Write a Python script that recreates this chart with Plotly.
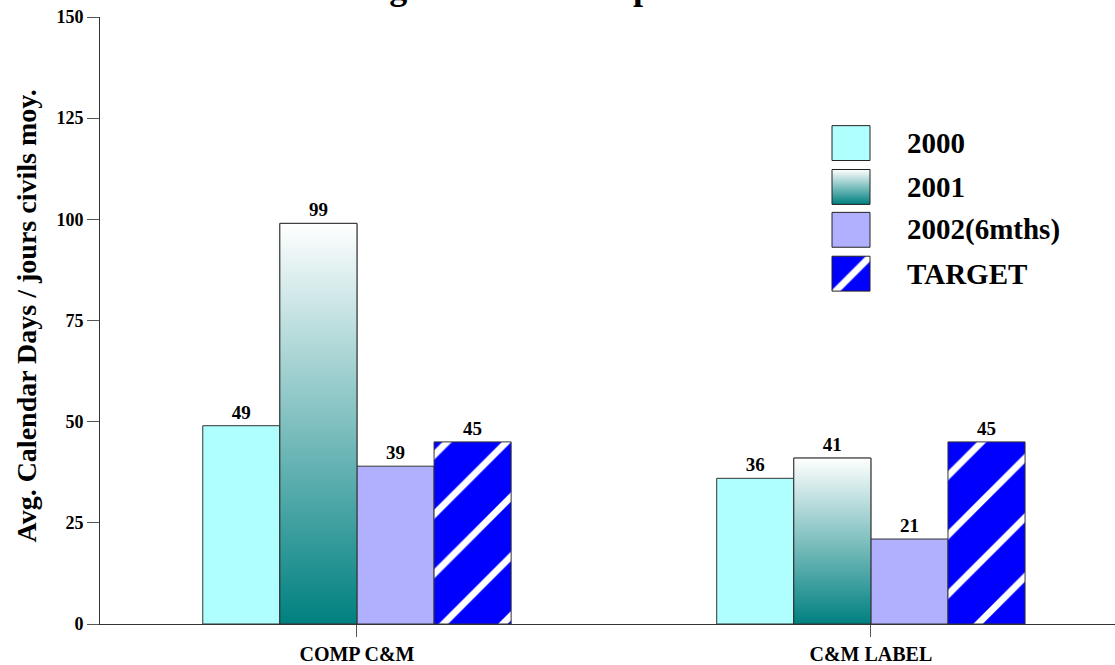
import plotly.graph_objects as go

categories = ["COMP C&M", "C&M LABEL"]
series_names = ["2000", "2001", "2002(6mths)", "TARGET"]
v2000 = [49, 36]
v2001 = [99, 41]
v2002 = [39, 21]
vtarget = [45, 45]
title_text = "Average Time to Complete"
y_title = "Avg. Calendar Days / jours civils moy."

SERIF = "Liberation Serif"
OUTLINE = "#333333"
C2000 = "#B0FFFF"
C2002 = "#B0B0FF"
CTARGET = "#0000FF"
TEAL_SCALE = [[0, "#008080"], [1, "#FFFFFF"]]
HATCH = dict(shape="/", fgcolor="#FFFFFF", bgcolor=CTARGET, size=42, solidity=0.16,
             fgopacity=1)

W = 0.15
offsets = [-0.3 + W * k for k in range(4)]
xpos = list(range(len(categories)))

fig = go.Figure()
label_font = dict(family=SERIF, size=19, color="black")

def add_bar(vals, k, color, pattern=None):
    marker = dict(color=color, line=dict(color=OUTLINE, width=1))
    if pattern:
        marker["pattern"] = pattern
    fig.add_trace(go.Bar(
        x=xpos, y=vals, width=W, offset=offsets[k], marker=marker,
        text=["<b>%s</b>" % v for v in vals], textposition="outside",
        textfont=label_font, cliponaxis=False, showlegend=False,
        name=series_names[k]))

add_bar(v2000, 0, C2000)
add_bar(v2001, 1, "rgba(0,0,0,0)")
add_bar(v2002, 2, C2002)
add_bar(vtarget, 3, CTARGET, HATCH)

# gradient fill for 2001 bars
for i, v in zip(xpos, v2001):
    x0 = i + offsets[1]
    x1 = x0 + W
    fig.add_trace(go.Scatter(
        x=[x0, x1, x1, x0, x0], y=[0, 0, v, v, 0], mode="lines",
        fill="toself", fillgradient=dict(type="vertical", colorscale=TEAL_SCALE),
        line=dict(color=OUTLINE, width=1), hoverinfo="skip", showlegend=False))

# custom legend on an overlay axis (paper-like 0..1)
PL, PR, PT, PB = 100, 1115, 17, 626
def px_x(p):
    return (p - PL) / (PR - PL)
def px_y(p):
    return (PB - p) / (PB - PT)

leg_tops = [126, 170, 213, 257]
box_l, box_r, box_h = 832, 870, 35
annotations = []
for k, (name, top) in enumerate(zip(series_names, leg_tops)):
    xa, xb = px_x(box_l), px_x(box_r)
    ya, yb = px_y(top + box_h), px_y(top)
    kw = dict(x=[xa, xb, xb, xa, xa], y=[ya, ya, yb, yb, ya], mode="lines",
              fill="toself", line=dict(color="#222222", width=1),
              xaxis="x2", yaxis="y2", hoverinfo="skip", showlegend=False)
    if k == 0:
        kw["fillcolor"] = C2000
    elif k == 1:
        kw["fillgradient"] = dict(type="vertical", colorscale=TEAL_SCALE)
    elif k == 2:
        kw["fillcolor"] = C2002
    else:
        kw["fillcolor"] = CTARGET
        kw["fillpattern"] = HATCH
    fig.add_trace(go.Scatter(**kw))
    annotations.append(dict(
        x=px_x(905), y=px_y(top + box_h / 2), xref="paper", yref="paper",
        xanchor="left", yanchor="middle", text="<b>%s</b>" % name, showarrow=False,
        font=dict(family=SERIF, size=29, color="black")))

annotations.append(dict(
    x=px_x(27), y=0.5 + 4 / (PB - PT), xref="paper", yref="paper", textangle=-90,
    xanchor="center", yanchor="middle", text="<b>%s</b>" % y_title, showarrow=False,
    font=dict(family=SERIF, size=28, color="black")))
annotations.append(dict(
    x=px_x(296), y=1 + (PT - 9) / (PB - PT), xref="paper", yref="paper",
    xanchor="left", yanchor="bottom", text="<b>%s</b>" % title_text, showarrow=False,
    font=dict(family=SERIF, size=36, color="black")))

fig.update_layout(
    width=1115, height=665,
    margin=dict(l=PL, r=1115 - PR, t=PT, b=665 - PB),
    paper_bgcolor="white", plot_bgcolor="white",
    barmode="overlay",
    font=dict(family=SERIF, color="black"),
    annotations=annotations,
    xaxis=dict(range=[-0.5, 1.475], tickvals=xpos, ticktext=["<b>%s</b>" % c for c in categories],
               showline=True, linecolor="#333333", linewidth=1, ticks="outside",
               ticklen=12, tickcolor="#555555", showgrid=False, zeroline=False,
               tickfont=dict(family=SERIF, size=20, color="black")),
    yaxis=dict(range=[0, 150], tickvals=[0, 25, 50, 75, 100, 125, 150],
               ticktext=["<b>%d</b>" % t for t in [0, 25, 50, 75, 100, 125, 150]],
               showline=True, linecolor="#333333", linewidth=1, ticks="outside",
               ticklen=12, tickcolor="#555555", showgrid=False, zeroline=False,
               tickfont=dict(family=SERIF, size=18, color="black")),
    xaxis2=dict(range=[0, 1], overlaying="x", visible=False, fixedrange=True),
    yaxis2=dict(range=[0, 1], overlaying="y", visible=False, fixedrange=True),
    showlegend=False,
)

fig.write_html("out.html", config={"displayModeBar": False},
               post_script="document.body.style.margin='0';document.body.style.overflow='hidden';")
